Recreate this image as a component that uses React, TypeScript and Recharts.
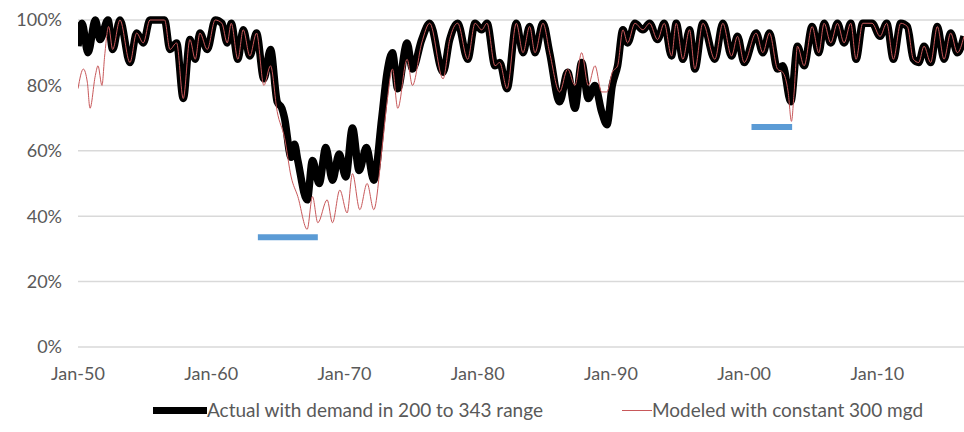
import { LineChart, Line, XAxis, YAxis, CartesianGrid, ReferenceLine } from "recharts"

// storage as % of capacity (decimal years)
const actualYears = [
  1950.0, 1950.3, 1950.75, 1951.3, 1951.65, 1952.25, 1952.6, 1953.15, 1953.9, 1954.4,
  1954.9, 1955.4, 1956.5, 1956.9, 1957.4, 1957.9, 1958.4, 1958.8, 1959.15, 1959.7,
  1960.3, 1960.8, 1961.2, 1961.5, 1962.0, 1962.4, 1962.9, 1963.4, 1963.95, 1964.45,
  1964.95, 1965.3, 1965.5, 1966.0, 1966.25, 1966.5, 1967.2, 1967.6, 1968.1, 1968.6,
  1969.1, 1969.6, 1970.1, 1970.6, 1971.1, 1971.65, 1972.2, 1972.8, 1973.2, 1973.6,
  1974.0, 1974.7, 1975.1, 1975.8, 1976.4, 1977.4, 1977.9, 1978.5, 1979.25, 1979.8,
  1980.3, 1980.7, 1981.3, 1981.65, 1982.2, 1982.9, 1983.4, 1983.9, 1984.3, 1984.9,
  1985.4, 1986.15, 1986.75, 1987.3, 1987.8, 1988.3, 1988.8, 1989.3, 1989.7, 1990.1,
  1990.5, 1990.9, 1991.25, 1991.8, 1992.4, 1992.9, 1993.5, 1994.0, 1994.55, 1994.9,
  1995.4, 1995.9, 1996.3, 1996.9, 1997.8, 1998.4, 1999.05, 1999.5, 2000.0, 2000.9,
  2001.4, 2001.9, 2002.5, 2002.9, 2003.5, 2004.0, 2004.5, 2005.1, 2005.6, 2006.0,
  2006.5, 2007.0, 2007.5, 2008.0, 2008.4, 2008.9, 2009.6, 2010.2, 2010.7, 2011.2,
  2011.75, 2012.25, 2012.7, 2013.1, 2013.5, 2014.0, 2014.5, 2015.0, 2015.5, 2016.0,
  2016.5,
]
const actualPct = [
  92, 99, 90, 100, 94, 100, 91, 100, 87, 96,
  93, 100, 100, 91, 93, 76, 94, 88, 96, 91,
  100, 99, 93, 99, 88, 97, 89, 96, 82, 91,
  75, 73, 70, 58, 62, 57, 45, 57, 50, 61,
  51, 59, 52, 67, 54, 61, 51, 70, 84, 90,
  79, 93, 85, 94, 99, 84, 94, 99, 88, 99,
  97, 99, 86, 87, 79, 99, 90, 98, 90, 99,
  90, 75, 84, 73, 87, 76, 80, 72, 68, 80,
  86, 97, 93, 99, 97, 99, 94, 99, 89, 99,
  88, 97, 85, 99, 88, 99, 89, 95, 87, 96,
  90, 96, 85, 86, 75, 92, 86, 98, 90, 99,
  93, 99, 93, 99, 88, 99, 99, 95, 99, 88,
  99, 98, 88, 87, 92, 87, 98, 88, 96, 90,
  95,
]

const modeledYears = [
  1950.0, 1950.4, 1950.7, 1950.9, 1951.3, 1951.5, 1951.8, 1952.0, 1952.3, 1952.6,
  1953.15, 1953.9, 1954.4, 1954.9, 1955.4, 1956.5, 1956.9, 1957.4, 1957.9, 1958.4,
  1958.8, 1959.15, 1959.7, 1960.3, 1960.8, 1961.2, 1961.5, 1962.0, 1962.4, 1962.9,
  1963.4, 1963.95, 1964.45, 1964.95, 1965.5, 1966.0, 1966.5, 1967.2, 1967.6, 1968.0,
  1968.7, 1969.1, 1969.65, 1970.2, 1970.6, 1971.15, 1971.7, 1972.2, 1972.8, 1973.2,
  1973.6, 1974.0, 1974.7, 1975.1, 1975.8, 1976.4, 1977.4, 1977.9, 1978.5, 1979.25,
  1979.8, 1980.3, 1980.7, 1981.3, 1981.65, 1982.2, 1982.9, 1983.4, 1983.9, 1984.3,
  1984.9, 1985.4, 1986.15, 1986.75, 1987.3, 1987.8, 1988.3, 1988.8, 1989.3, 1989.7,
  1990.1, 1990.5, 1990.9, 1991.25, 1991.8, 1992.4, 1992.9, 1993.5, 1994.0, 1994.55,
  1994.9, 1995.4, 1995.9, 1996.3, 1996.9, 1997.8, 1998.4, 1999.05, 1999.5, 2000.0,
  2000.9, 2001.4, 2001.9, 2002.5, 2002.9, 2003.3, 2003.55, 2003.75, 2004.0, 2004.5,
  2005.1, 2005.6, 2006.0, 2006.5, 2007.0, 2007.5, 2008.0, 2008.4, 2008.9, 2009.6,
  2010.2, 2010.7, 2011.2, 2011.75, 2012.25, 2012.7, 2013.1, 2013.5, 2014.0, 2014.5,
  2015.0, 2015.5, 2016.0, 2016.5,
]
const modeledPct = [
  79, 85, 81, 73, 83, 86, 80, 89, 98, 91,
  100, 87, 96, 93, 100, 100, 91, 93, 76, 94,
  88, 96, 91, 100, 99, 93, 99, 88, 97, 89,
  96, 80, 86, 72, 64, 52, 46, 36, 46, 38,
  45, 38, 48, 41, 53, 42, 50, 42, 60, 75,
  85, 73, 88, 80, 93, 99, 82, 94, 99, 88,
  99, 97, 99, 86, 87, 79, 99, 90, 98, 90,
  99, 90, 78, 85, 80, 90, 80, 86, 78, 78,
  84, 86, 97, 93, 99, 97, 99, 94, 99, 89,
  99, 88, 97, 85, 99, 88, 99, 89, 95, 87,
  96, 90, 96, 85, 84, 78, 69, 78, 92, 86,
  98, 90, 99, 93, 99, 93, 99, 88, 99, 99,
  95, 99, 88, 99, 98, 88, 87, 92, 87, 98,
  88, 96, 90, 95,
]

// blue markers (drought-of-record levels)
const markStart = [1963.5, 2000.55]
const markEnd = [1968.0, 2003.6]
const markLevel = [33.6, 67.3]

const xTicks = [1950, 1960, 1970, 1980, 1990, 2000, 2010]
const xTickLabels = ["Jan-50", "Jan-60", "Jan-70", "Jan-80", "Jan-90", "Jan-00", "Jan-10"]
const yTicks = [0, 20, 40, 60, 80, 100]

const actualData = actualYears.map((year, i) => ({ year, pct: actualPct[i] }))
const modeledData = modeledYears.map((year, i) => ({ year, pct: modeledPct[i] }))

const textColor = "#595959"
const redColor = "#c8585a"
const font = "Lato, 'Open Sans', sans-serif"

export default function App() {
  return (
    <div style={{ position: "absolute", left: 0, top: 0, width: 964, height: 432, background: "#fff", fontFamily: font }}>
      <LineChart width={964} height={392} margin={{ top: 20, right: 0, bottom: 0, left: 0 }}>
        <CartesianGrid vertical={false} stroke="#d9d9d9" strokeWidth={1.5} />
        <XAxis
          type="number"
          dataKey="year"
          domain={[1950, 2016.5]}
          ticks={xTicks}
          tickFormatter={(v: number) => xTickLabels[xTicks.indexOf(v)] ?? ""}
          axisLine={false}
          tickLine={false}
          tickSize={0}
          tickMargin={20}
          height={45}
          tick={{ fill: textColor, fontSize: 18 }}
          allowDataOverflow
        />
        <YAxis
          type="number"
          domain={[0, 100]}
          ticks={yTicks}
          tickFormatter={(v: number) => `${v}%`}
          axisLine={false}
          tickLine={false}
          tickSize={0}
          tickMargin={16}
          width={78}
          tick={{ fill: textColor, fontSize: 18 }}
        />
        {markStart.map((s, i) => (
          <ReferenceLine
            key={i}
            segment={[{ x: s, y: markLevel[i] }, { x: markEnd[i], y: markLevel[i] }]}
            stroke="#5b9bd5"
            strokeWidth={6}
          />
        ))}
        <Line
          data={actualData}
          dataKey="pct"
          type="monotone"
          stroke="#000"
          strokeWidth={7.5}
          strokeLinejoin="round"
          dot={false}
          isAnimationActive={false}
        />
        <Line
          data={modeledData}
          dataKey="pct"
          type="monotone"
          stroke={redColor}
          strokeWidth={1}
          dot={false}
          isAnimationActive={false}
        />
      </LineChart>
      <div style={{ position: "relative", height: 40, color: textColor, fontSize: 19, lineHeight: "36px" }}>
        <span style={{ position: "absolute", left: 153, top: 0, display: "inline-flex", alignItems: "center", whiteSpace: "nowrap" }}>
          <span style={{ width: 54, height: 7, background: "#000", display: "inline-block" }} />
          Actual with demand in 200 to 343 range
        </span>
        <span style={{ position: "absolute", left: 622, top: 0, display: "inline-flex", alignItems: "center", whiteSpace: "nowrap" }}>
          <span style={{ width: 30, height: 1, background: redColor, display: "inline-block" }} />
          Modeled with constant 300 mgd
        </span>
      </div>
    </div>
  )
}
